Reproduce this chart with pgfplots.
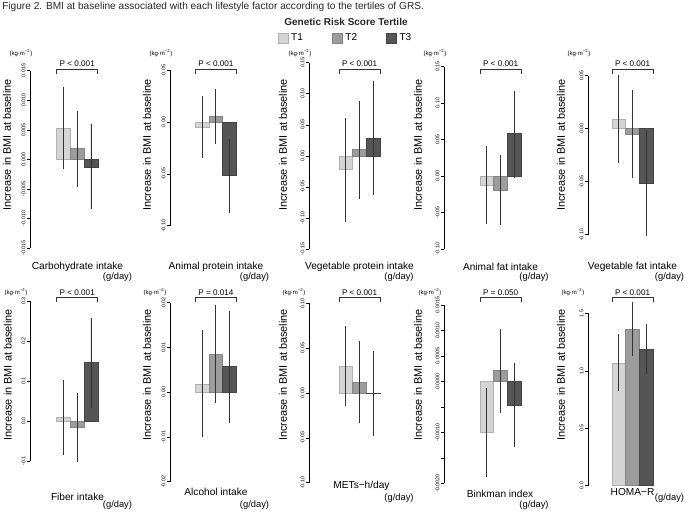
\documentclass[border=0pt]{standalone}
\usepackage{pgfplots}
\pgfplotsset{compat=1.18}
\usepackage{fontspec}
\setmainfont{Liberation Sans}
\definecolor{cA}{HTML}{D4D4D4}\definecolor{bA}{HTML}{B0B0B0}
\definecolor{cB}{HTML}{9C9C9C}\definecolor{bB}{HTML}{858585}
\definecolor{cC}{HTML}{555555}\definecolor{bC}{HTML}{454545}
\definecolor{eb}{HTML}{333333}
\pgfplotsset{
  panel/.style={scale only axis, axis x line=none, axis y line*=left, xmax=5.3, clip=false,
    anchor=north west, tick align=outside, major tick length=2.2pt, scaled y ticks=false,
    every tick/.style={black, line width=0.4pt},
    y axis line style={black, line width=0.4pt},
    yticklabel style={rotate=90, anchor=south, font=\fontsize{4}{4}\selectfont, inner sep=1pt}},
}
\newcommand{\tbar}[5]{\addplot[ybar, bar width=1, bar shift=0pt, fill=c#1, draw=b#1, line width=0.4pt,
  error bars/.cd, y dir=both, y explicit, error mark=none, error bar style={eb, line width=0.6pt}]
  table[row sep=\\, x=x, y=y, y error plus expr=\thisrow{u}-\thisrow{y}, y error minus expr=\thisrow{y}-\thisrow{l}]
  {x y u l\\ #2 #3 #4 #5\\};}
\newcommand{\three}[9]{\tbar{A}{2.5}{#1}{#2}{#3}\tbar{B}{3.5}{#4}{#5}{#6}\tbar{C}{4.5}{#7}{#8}{#9}}
\newcommand{\bmarks}[1]{\coordinate (L#1) at (axis cs:2,0); \coordinate (R#1) at (axis cs:5,0); \coordinate (M#1) at (axis cs:3.5,0);}
\newcommand{\bracket}[3]{\draw[line width=0.5pt, black!80] (L#1 |- YA#2) -- (L#1 |- YB#2) -- (R#1 |- YB#2) -- (R#1 |- YA#2);
  \node[font=\fontsize{6.1}{7}\selectfont, inner sep=0] at (M#1 |- YT#2) {#3};}
\newcommand{\ylab}[2]{\node[rotate=90, font=\fontsize{8.2}{9}\selectfont, inner sep=0] at (#1,#2) {Increase in BMI at baseline};}
\newcommand{\kgunit}[2]{\node[font=\fontsize{4.5}{5}\selectfont, inner sep=0] at (#1,#2) {(kg·m\textsuperscript{−2})};}
\newcommand{\xlab}[3]{\node[font=\fontsize{7.6}{8}\selectfont, inner sep=0] at (#1,#2) {#3};}
\newcommand{\gday}[2]{\node[font=\fontsize{7}{8}\selectfont, inner sep=0] at (#1,#2) {(g/day)};}
\begin{document}
\begin{tikzpicture}[x=0.75pt, y=-0.75pt]
\path[use as bounding box] (0,0) rectangle (685,511);
\coordinate (A1) at (30,70.7); \coordinate (A2) at (170,70); \coordinate (A3) at (309,62.7);
\coordinate (A4) at (444,66.7); \coordinate (A5) at (588,75.7);
\coordinate (A6) at (30,301); \coordinate (A7) at (170,302.7); \coordinate (A8) at (309,303.3);
\coordinate (A9) at (444,305); \coordinate (A10) at (588,313.3);
\coordinate (YA1) at (0,73.5); \coordinate (YB1) at (0,69.5); \coordinate (YT1) at (0,64);
\coordinate (YA2) at (0,301.5); \coordinate (YB2) at (0,297.5); \coordinate (YT2) at (0,292.5);

% Row 1
\begin{axis}[panel, at={(A1)}, xmin=0.05, width=53.94pt, height=132.98pt, ymin=-0.015, ymax=0.015,
  ytick={-0.015,-0.01,-0.005,0,0.005,0.01,0.015}, yticklabels={-0.015,-0.010,-0.005,0.000,0.005,0.010,0.015}]
\three{0.0053}{0.0123}{-0.0017}{0.0018}{0.0082}{-0.0047}{-0.0013}{0.0060}{-0.0084}
\bmarks{1}
\end{axis}
\begin{axis}[panel, at={(A2)}, xmin=0.15, width=52.92pt, height=116.78pt, ymin=-0.10, ymax=0.05,
  ytick={-0.1,-0.05,0,0.05}, yticklabels={-0.10,-0.05,0.00,0.05}]
\three{-0.0048}{0.0250}{-0.0347}{0.0058}{0.0321}{-0.0212}{-0.0517}{-0.0160}{-0.0880}
\bmarks{2}
\end{axis}
\begin{axis}[panel, at={(A3)}, xmin=-0.19, width=56.41pt, height=139.73pt, ymin=-0.15, ymax=0.15,
  ytick={-0.15,-0.1,-0.05,0,0.05,0.1,0.15}, yticklabels={-0.15,-0.10,-0.05,0.00,0.05,0.10,0.15}]
\three{-0.0220}{0.0613}{-0.1065}{0.0102}{0.0882}{-0.0688}{0.0280}{0.1204}{-0.0634}
\bmarks{3}
\end{axis}
\begin{axis}[panel, at={(A4)}, xmin=-0.63, width=60.93pt, height=136.73pt, ymin=-0.10, ymax=0.15,
  ytick={-0.1,-0.05,0,0.05,0.1,0.15}, yticklabels={-0.10,-0.05,0.00,0.05,0.10,0.15}]
\three{-0.0128}{0.0408}{-0.0656}{-0.0197}{0.0289}{-0.0674}{0.0583}{0.1170}{-0.0028}
\bmarks{4}
\end{axis}
\begin{axis}[panel, at={(A5)}, xmin=0.25, width=51.89pt, height=119.25pt, ymin=-0.10, ymax=0.05,
  ytick={-0.1,-0.05,0,0.05}, yticklabels={-0.10,-0.05,0.00,0.05}]
\three{0.0091}{0.0503}{-0.0324}{-0.0053}{0.0362}{-0.0465}{-0.0519}{-0.0010}{-0.1016}
\bmarks{5}
\end{axis}
% Row 2
\begin{axis}[panel, at={(A6)}, xmin=0.05, width=53.94pt, height=120pt, ymin=-0.1, ymax=0.3,
  ytick={-0.1,0,0.1,0.2,0.3}, yticklabels={-0.1,0.0,0.1,0.2,0.3}]
\three{0.0092}{0.1030}{-0.0840}{-0.0150}{0.0710}{-0.1025}{0.1475}{0.2580}{0.0330}
\bmarks{6}
\end{axis}
\begin{axis}[panel, at={(A7)}, xmin=0.15, width=52.92pt, height=134.25pt, ymin=-0.02, ymax=0.02,
  ytick={-0.02,-0.01,0,0.01,0.02}, yticklabels={-0.02,-0.01,0.00,0.01,0.02}]
\three{0.0018}{0.0139}{-0.0100}{0.0084}{0.0195}{-0.0025}{0.0057}{0.0182}{-0.0069}
\bmarks{7}
\end{axis}
\begin{axis}[panel, at={(A8)}, xmin=-0.19, width=56.41pt, height=134.55pt, ymin=-0.10, ymax=0.10,
  ytick={-0.1,-0.05,0,0.05,0.1}, yticklabels={-0.10,-0.05,0.00,0.05,0.10}]
\three{0.0297}{0.0743}{-0.0149}{0.0123}{0.0584}{-0.0335}{-0.0007}{0.0468}{-0.0483}
\bmarks{8}
\end{axis}
\begin{axis}[panel, at={(A9)}, xmin=-0.63, width=60.93pt, height=133.73pt, ymin=-0.0020, ymax=0.0015,
  ytick={-0.002,-0.0015,-0.001,-0.0005,0,0.0005,0.001,0.0015},
  yticklabels={-0.0020,{},-0.0010,{},0.0000,0.0005,0.0010,0.0015}]
\three{-0.00100}{-0.00013}{-0.00188}{0.00021}{0.00103}{-0.00062}{-0.00047}{0.00036}{-0.00129}
\bmarks{9}
\end{axis}
\begin{axis}[panel, at={(A10)}, xmin=0.25, width=51.89pt, height=129.3pt, ymin=0, ymax=1.5,
  ytick={0,0.5,1,1.5}, yticklabels={0.0,0.5,1.0,1.5}]
\three{1.065}{1.317}{0.827}{1.364}{1.602}{1.126}{1.190}{1.407}{0.969}
\bmarks{10}
\end{axis}
% legend
\coordinate (LEG) at (346,38);
\begin{axis}[at={(LEG)}, anchor=center, hide axis, scale only axis, width=10pt, height=10pt,
  xmin=0, xmax=1, ymin=0, ymax=1,
  legend style={at={(0.5,0.5)}, anchor=center, draw=none, fill=none, legend columns=3,
    font=\fontsize{7.5}{8}\selectfont, /tikz/every even column/.append style={column sep=20pt}},
  legend image code/.code={\draw[#1] (0pt,-3.75pt) rectangle (7.5pt,3.75pt);}]
\addlegendimage{fill=cA, draw=bA, line width=0.4pt}\addlegendentry{T1}
\addlegendimage{fill=cB, draw=bB, line width=0.4pt}\addlegendentry{T2}
\addlegendimage{fill=cC, draw=bC, line width=0.4pt}\addlegendentry{T3}
\end{axis}
% brackets
\bracket{1}{1}{P \textless{} 0.001}\bracket{2}{1}{P \textless{} 0.001}\bracket{3}{1}{P \textless{} 0.001}
\bracket{4}{1}{P \textless{} 0.001}\bracket{5}{1}{P \textless{} 0.001}
\bracket{6}{2}{P \textless{} 0.001}\bracket{7}{2}{P = 0.014}\bracket{8}{2}{P \textless{} 0.001}
\bracket{9}{2}{P = 0.050}\bracket{10}{2}{P \textless{} 0.001}
% y labels & units
\ylab{7}{145}\ylab{147}{145}\ylab{283}{145}\ylab{418}{145}\ylab{561}{145}
\ylab{7.7}{375}\ylab{147}{375}\ylab{283}{375}\ylab{418}{375}\ylab{561}{375}
\kgunit{21}{53}\kgunit{161}{53}\kgunit{300}{53}\kgunit{435}{53}\kgunit{579}{53}
\kgunit{16}{292}\kgunit{155}{292}\kgunit{294}{292}\kgunit{430}{292}\kgunit{573}{292}
% x labels
\xlab{77.5}{267}{Carbohydrate intake}\xlab{216}{267}{Animal protein intake}\xlab{359.5}{267}{Vegetable protein intake}
\xlab{500.5}{267}{Animal fat intake}\xlab{632.5}{267}{Vegetable fat intake}
\xlab{77.5}{497}{Fiber intake}\xlab{216}{492}{Alcohol intake}\xlab{361.5}{486}{METs−h/day}
\xlab{500}{494}{Binkman index}\xlab{632.5}{492}{HOMA−R}
\gday{117.5}{277}\gday{254.5}{277}\gday{399}{277}\gday{534}{277}\gday{669.5}{277}
\gday{117.5}{505}\gday{254.5}{505}\gday{399}{498}\gday{534}{505}\gday{669.5}{498}
% title
\node[anchor=west, font=\fontsize{7.6}{8}\selectfont, inner sep=0, text=black!85] at (2,7) {Figure 2. BMI at baseline associated with each lifestyle factor according to the tertiles of GRS.};
\node[font=\bfseries\fontsize{7.5}{9}\selectfont, inner sep=0, text=black!85] at (346,21.7) {Genetic Risk Score Tertile};
\end{tikzpicture}
\end{document}
